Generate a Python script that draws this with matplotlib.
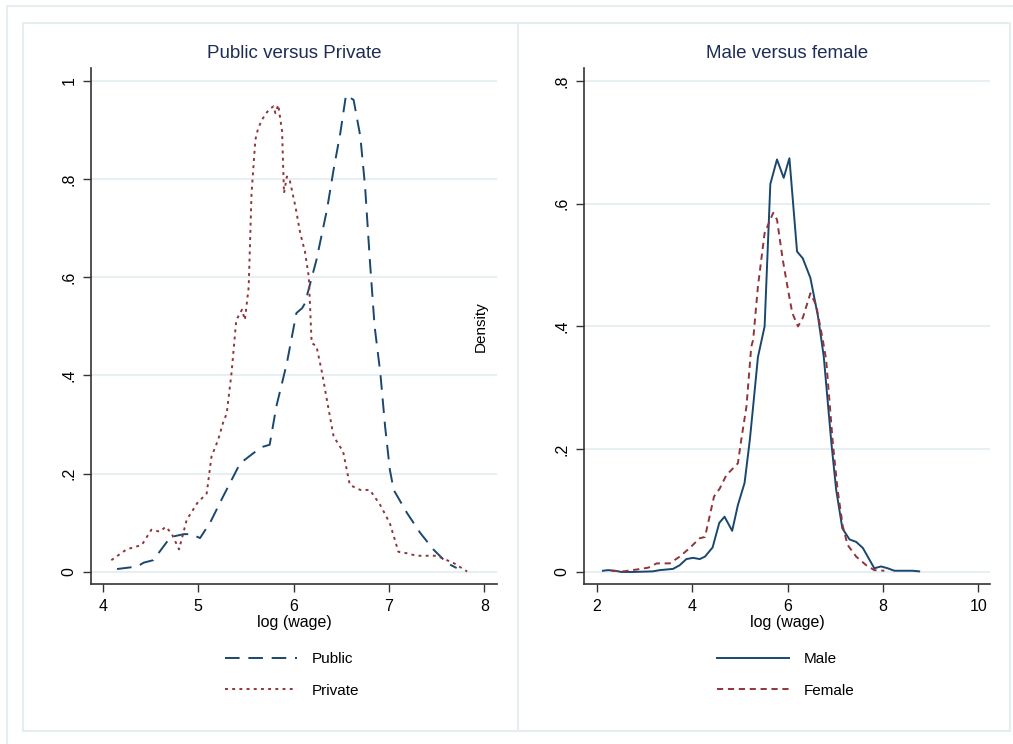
import matplotlib.pyplot as plt
from matplotlib.patches import Rectangle

plt.rcParams['font.family'] = ['Liberation Sans', 'DejaVu Sans']

NAVY = '#1a476f'
MAROON = '#90353b'
GRID = '#e8eff2'
FRAME = '#e6edf0'
TITLE = '#1f2d56'

# kernel density estimates of log wage, by sector
public_x = [4.15, 4.36, 4.43, 4.53, 4.71, 4.85, 4.93, 5.02, 5.13, 5.26, 5.44, 5.58,
            5.68, 5.75, 5.82, 5.93, 6.03, 6.09, 6.12, 6.24, 6.35, 6.42, 6.49, 6.55,
            6.63, 6.70, 6.75, 6.80, 6.85, 6.91, 6.96, 7.01, 7.05, 7.19, 7.33, 7.47,
            7.61, 7.71]
public_y = [0.006, 0.011, 0.019, 0.024, 0.071, 0.077, 0.077, 0.069, 0.102, 0.153, 0.221, 0.242,
            0.255, 0.259, 0.337, 0.425, 0.527, 0.537, 0.547, 0.635, 0.737, 0.819, 0.893, 0.971,
            0.961, 0.887, 0.785, 0.635, 0.500, 0.405, 0.296, 0.208, 0.167, 0.120, 0.079, 0.045,
            0.018, 0.008]

private_x = [4.09, 4.25, 4.41, 4.51, 4.60, 4.66, 4.72, 4.80, 4.88, 4.99, 5.09, 5.14,
             5.21, 5.26, 5.30, 5.35, 5.40, 5.46, 5.49, 5.53, 5.56, 5.60, 5.63, 5.68,
             5.74, 5.79, 5.81, 5.84, 5.88, 5.90, 5.93, 5.96, 6.02, 6.07, 6.12, 6.16,
             6.19, 6.24, 6.30, 6.35, 6.42, 6.52, 6.59, 6.70, 6.80, 6.91, 7.01, 7.10,
             7.19, 7.29, 7.50, 7.68, 7.82]
private_y = [0.024, 0.046, 0.055, 0.086, 0.082, 0.092, 0.079, 0.046, 0.106, 0.140, 0.160, 0.235,
             0.269, 0.303, 0.323, 0.405, 0.513, 0.534, 0.513, 0.580, 0.771, 0.880, 0.904, 0.924,
             0.941, 0.948, 0.934, 0.951, 0.897, 0.771, 0.805, 0.798, 0.744, 0.690, 0.652, 0.601,
             0.466, 0.460, 0.405, 0.350, 0.276, 0.245, 0.177, 0.167, 0.167, 0.136, 0.099, 0.041,
             0.038, 0.033, 0.033, 0.018, 0.001]

# kernel density estimates of log wage, by sex
male_x = [2.13, 2.24, 2.38, 2.52, 2.77, 3.18, 3.32, 3.60, 3.74, 3.88, 4.02, 4.16,
          4.27, 4.43, 4.57, 4.68, 4.84, 4.96, 5.10, 5.21, 5.28, 5.38, 5.52, 5.64,
          5.78, 5.92, 6.04, 6.20, 6.32, 6.48, 6.64, 6.76, 6.92, 7.02, 7.15, 7.30,
          7.44, 7.58, 7.82, 7.96, 8.10, 8.24, 8.62, 8.76]
male_y = [0.002, 0.003, 0.002, 0.000, 0.000, 0.001, 0.003, 0.005, 0.011, 0.021, 0.023, 0.021,
          0.025, 0.040, 0.080, 0.090, 0.067, 0.109, 0.145, 0.215, 0.270, 0.350, 0.400, 0.632,
          0.672, 0.642, 0.674, 0.522, 0.511, 0.479, 0.416, 0.351, 0.210, 0.134, 0.071, 0.053,
          0.049, 0.039, 0.006, 0.009, 0.006, 0.002, 0.002, 0.001]

female_x = [2.31, 2.56, 2.84, 3.08, 3.26, 3.53, 3.74, 3.95, 4.16, 4.27, 4.46, 4.58,
            4.72, 4.86, 4.96, 5.03, 5.14, 5.24, 5.28, 5.38, 5.52, 5.70, 5.78, 5.90,
            6.01, 6.10, 6.22, 6.32, 6.48, 6.60, 6.74, 6.81, 6.95, 7.05, 7.16, 7.26,
            7.44, 7.65, 7.82, 8.03]
female_y = [0.002, 0.001, 0.004, 0.007, 0.014, 0.014, 0.025, 0.039, 0.055, 0.057, 0.123, 0.136,
            0.158, 0.169, 0.177, 0.215, 0.270, 0.367, 0.378, 0.465, 0.552, 0.585, 0.574, 0.509,
            0.460, 0.422, 0.400, 0.414, 0.454, 0.435, 0.378, 0.346, 0.210, 0.134, 0.074, 0.044,
            0.025, 0.011, 0.003, 0.002]

left_ticks = [0, 0.2, 0.4, 0.6, 0.8, 1.0]
left_ticklabels = ['0', '.2', '.4', '.6', '.8', '1']
right_ticks = [0, 0.2, 0.4, 0.6, 0.8]
right_ticklabels = ['0', '.2', '.4', '.6', '.8']

W, H = 1013, 744
fig = plt.figure(figsize=(W / 100, H / 100), dpi=100)
fig.patch.set_facecolor('white')


def px(x0, y0, x1, y1):
    # pixel box -> figure fraction [left, bottom, width, height]
    return [x0 / W, 1 - y1 / H, (x1 - x0) / W, (y1 - y0) / H]


# light frames around the combined graph (outer one runs off the page)
for rect in [(6.5, 5.5, 1030, 760), (22.5, 22.5, 1010, 731), (517.5, 22.5, 1010, 731)]:
    x0, y0, x1, y1 = rect
    fig.patches.append(Rectangle((x0 / W, 1 - y1 / H), (x1 - x0) / W, (y1 - y0) / H,
                                 transform=fig.transFigure, fill=False,
                                 edgecolor=FRAME, linewidth=1.5))

ax1 = fig.add_axes(px(91, 68, 497, 584))
ax2 = fig.add_axes(px(584, 68, 990, 584))

ax1.plot(public_x, public_y, color=NAVY, lw=1.4, linestyle=(0, (7.5, 4.5)), label='Public')
ax1.plot(private_x, private_y, color=MAROON, lw=1.4, linestyle=(0, (1.5, 2.2)), label='Private')
ax1.set_xlim(3.877, 8.133)
ax1.set_ylim(-0.0245, 1.026)
ax1.set_xticks([4, 5, 6, 7, 8])
ax1.set_yticks(left_ticks)
ax1.set_yticklabels(left_ticklabels)
ax1.set_title('Public versus Private', fontsize=13.5, color=TITLE, pad=7)

ax2.plot(male_x, male_y, color=NAVY, lw=1.4, label='Male')
ax2.plot(female_x, female_y, color=MAROON, lw=1.4, linestyle=(0, (3.2, 2.4)), label='Female')
ax2.set_xlim(1.734, 10.245)
ax2.set_ylim(-0.0196, 0.821)
ax2.set_xticks([2, 4, 6, 8, 10])
ax2.set_yticks(right_ticks)
ax2.set_yticklabels(right_ticklabels)
ax2.set_title('Male versus female', fontsize=13.5, color=TITLE, pad=7)

for ax in (ax1, ax2):
    for s in ('top', 'right'):
        ax.spines[s].set_visible(False)
    for s in ('left', 'bottom'):
        ax.spines[s].set_color('#333333')
        ax.spines[s].set_linewidth(1.2)
    ax.yaxis.grid(True, color=GRID, lw=1.5)
    ax.set_axisbelow(True)
    ax.tick_params(axis='both', length=5.5, width=1.0, color='#333333', labelsize=11.5)
    ax.tick_params(axis='x', pad=5)
    ax.tick_params(axis='y', pad=5)
    for lab in ax.get_yticklabels():
        lab.set_rotation(90)
        lab.set_va('center')
    ax.set_xlabel('log (wage)', fontsize=11.5, labelpad=1)

fig.text(481 / W, 1 - 327 / H, 'Density', rotation=90, fontsize=11,
         ha='center', va='center')

leg_kw = dict(loc='upper left', frameon=False, fontsize=11, handlelength=4.7,
              handletextpad=1.0, labelspacing=1.15, borderpad=0, borderaxespad=0)
h1, l1 = ax1.get_legend_handles_labels()
fig.legend(h1, l1, bbox_to_anchor=(225 / W, 1 - 652 / H), **leg_kw)
h2, l2 = ax2.get_legend_handles_labels()
fig.legend(h2, l2, bbox_to_anchor=(717 / W, 1 - 652 / H), **leg_kw)

fig.savefig('out.png', dpi=100)
